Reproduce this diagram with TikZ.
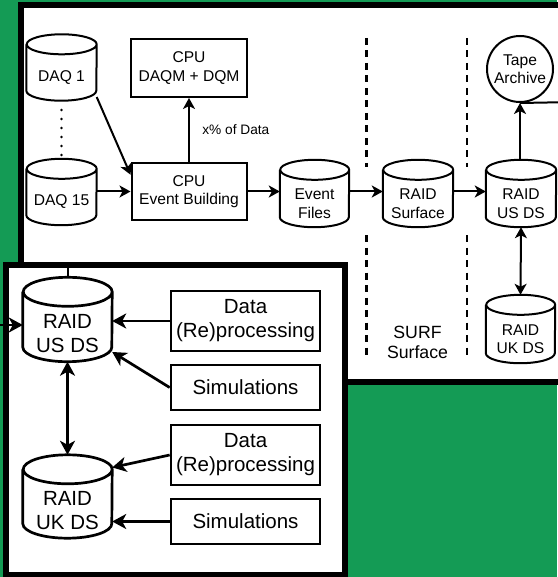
\documentclass[tikz,border=0pt]{standalone}
\usepackage{fontspec}
\setmainfont{Liberation Sans}
\usetikzlibrary{arrows.meta,calc}
\definecolor{bggreen}{RGB}{20,155,85}

% outline of a storage cylinder drawn around a named rectangular node
% #1 node, #2 x radius, #3 y radius of the end ellipses, #4 line width
\newcommand\drawcyl[4]{%
  \draw[line width=#4]
    ([yshift=-#3]#1.north west) -- ([yshift=#3]#1.south west)
    arc[start angle=180,end angle=360,x radius=#2,y radius=#3]
    -- ([yshift=-#3]#1.north east)
    arc[start angle=0,end angle=180,x radius=#2,y radius=#3]
    arc[start angle=180,end angle=360,x radius=#2,y radius=#3];}

\tikzset{
  topfont/.style={font=\fontsize{15.6}{18.5}\selectfont},
  insfont/.style={font=\fontsize{20.5}{24}\selectfont},
  tarrow/.style={line width=2pt,-{Stealth[length=11pt,width=12pt,inset=3pt]}},
  tdarrow/.style={line width=2pt,{Stealth[length=11pt,width=12pt,inset=3pt]}-{Stealth[length=11pt,width=12pt,inset=3pt]}},
  iarrow/.style={line width=2.7pt,-{Stealth[length=14pt,width=15pt,inset=4pt]}},
  idarrow/.style={line width=2.7pt,{Stealth[length=14pt,width=15pt,inset=4pt]}-{Stealth[length=14pt,width=15pt,inset=4pt]}},
  tbox/.style={draw,line width=2pt,minimum width=115pt,minimum height=57pt,
    align=center,topfont,inner sep=0pt},
  ibox/.style={draw,line width=2.7pt,minimum width=149pt,align=center,insfont,inner sep=0pt},
  tcyl/.style={minimum width=70pt,minimum height=66pt,inner sep=0pt},
  icyl/.style={minimum width=89pt,minimum height=84pt,inner sep=0pt},
  tcyltext/.style={align=center,topfont,yshift=-10pt},
  icyltext/.style={align=center,insfont,yshift=-14.5pt},
  sepline/.style={line width=2.3pt,dash pattern=on 7pt off 5.5pt},
  panel/.style={line width=6pt},
}

\begin{document}
\begin{tikzpicture}[x=1pt,y=-1pt]
\useasboundingbox (0,0) rectangle (557,577);
\fill[bggreen] (0,0) rectangle (557,577);

% ---------- detector and surface data flow ----------
\draw[panel,fill=white] (21,5.5) rectangle (590,381.5);

\node[tcyl,label={[tcyltext]center:DAQ 1}] (daq1) at (61.5,67.5) {};
\node[tcyl,label={[tcyltext]center:DAQ 15}] (daq15) at (61.5,192) {};
\node[tbox,minimum width=116pt,minimum height=58pt] (cpuq) at (189,68) {CPU\\DAQM + DQM};
\node[tbox] (cpueb) at (189,191.5) {CPU\\Event Building};
\node[tcyl,minimum width=69pt,minimum height=67pt,label={[tcyltext]center:Event\\Files}] (evf) at (314.5,193.5) {};
\node[tcyl,minimum height=67pt,label={[tcyltext]center:RAID\\Surface}] (rsurf) at (418,193.5) {};
\node[tcyl,minimum height=67pt,label={[tcyltext]center:RAID\\US DS}] (rus) at (521,193.5) {};
\node[tcyl,minimum width=69pt,minimum height=68pt,label={[tcyltext]center:RAID\\UK DS}] (ruk) at (520.5,329) {};
\node[draw,circle,line width=2pt,minimum size=66pt,inner sep=0pt,align=center,topfont]
  (tape) at (520,69) {Tape\\Archive};
\node[align=center,font=\fontsize{17.7}{20}\selectfont] (surf) at (417.5,342) {SURF\\Surface};

\drawcyl{daq1}{35pt}{10pt}{2pt}
\drawcyl{daq15}{35pt}{10pt}{2pt}
\drawcyl{evf}{34.5pt}{10pt}{2pt}
\drawcyl{rsurf}{35pt}{10pt}{2pt}
\drawcyl{rus}{35pt}{10pt}{2pt}
\drawcyl{ruk}{34.5pt}{10pt}{2pt}

% the DAQ 2 ... DAQ 14 ellipsis
\coordinate (dotsa) at (61.5,110);
\coordinate (dotsb) at (61.5,156);
\draw[line width=2.6pt,line cap=round,dash pattern=on 0pt off 9pt] (dotsa) -- (dotsb);

\draw[tarrow] (daq1.-40) -- (cpueb.164);
\draw[tarrow] (daq15.east |- cpueb.west) -- (cpueb.west);
\draw[tarrow] (cpueb.north) -- node[right=9pt,font=\fontsize{13.7}{16}\selectfont] {x\% of Data} (cpuq.south);
\draw[tarrow] (cpueb.east) -- (cpueb.east -| evf.west);
\draw[tarrow] (cpueb.east -| evf.east) -- (cpueb.east -| rsurf.west);
\draw[tarrow] (cpueb.east -| rsurf.east) -- (cpueb.east -| rus.west);
\draw[tarrow] (rus.north -| tape.south) -- (tape.south);
\draw[tdarrow] (rus.south) -- (ruk.north);

% tail of the tape symbol
\coordinate (tapetail) at (575,102);
\draw[line width=2pt] (tape.south) -- (tapetail);

% boundaries of the surface site
\coordinate (s1a) at (366.5,38);  \coordinate (s1b) at (366.5,167);
\coordinate (s1c) at (366.5,235); \coordinate (s1d) at (366.5,355);
\coordinate (s2a) at (467,38);    \coordinate (s2b) at (467,167);
\coordinate (s2c) at (467,235);   \coordinate (s2d) at (467,355);
\draw[sepline] (s1a) -- (s1b);
\draw[sepline] (s1c) -- (s1d);
\draw[sepline] (s2a) -- (s2b);
\draw[sepline] (s2c) -- (s2d);

% ---------- US / UK data storage ----------
\fill[white] (5.5,265) rectangle (345,575);

\node[icyl,label={[icyltext]center:RAID\\US DS}] (iusds) at (67.5,319.5) {};
\node[icyl,minimum height=83pt,label={[icyltext]center:RAID\\UK DS}] (iukds) at (67.5,496.5) {};
\drawcyl{iusds}{44.5pt}{14.5pt}{2.7pt}
\drawcyl{iukds}{44.5pt}{14.5pt}{2.7pt}

\node[ibox,minimum height=60pt] (idata1) at (245.5,321) {Data\\(Re)processing};
\node[ibox,minimum height=45pt] (isim1) at (245.5,387.5) {Simulations};
\node[ibox,minimum height=60pt] (idata2) at (245.5,455) {Data\\(Re)processing};
\node[ibox,minimum height=45pt] (isim2) at (245.5,521.5) {Simulations};

\coordinate (inleft) at (0,325);
\coordinate (intop) at (67.5,262);
\draw[iarrow] (inleft) -- (inleft -| iusds.west);
\draw[line width=2pt] (intop) -- (iusds.north);

\draw[iarrow] (idata1.west) -- (idata1.west -| iusds.east);
\draw[iarrow] (isim1.west) -- (iusds.-36);
\draw[idarrow] (iusds.south) -- (iukds.north);
\draw[iarrow] (idata2.west) -- (iukds.33);
\draw[iarrow] (isim2.west) -- (isim2.west -| iukds.east);

\draw[panel] (5.5,265) rectangle (345,575);
\end{tikzpicture}
\end{document}
